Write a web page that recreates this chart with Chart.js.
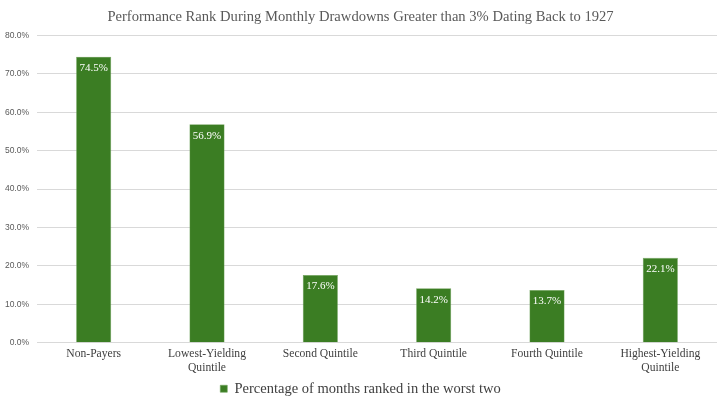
<!DOCTYPE html>
<html lang="en">
<head>
    <meta charset="UTF-8">
    <script src="https://cdn.jsdelivr.net/npm/chart.js"></script>
    <style>
        body { margin: 0; padding: 0; background: #fff; }
        #wrap { width: 724px; height: 406px; }
    </style>
    <title>Performance Rank During Monthly Drawdowns</title>
</head>
<body>
    <div id="wrap"><canvas id="rankChart"></canvas></div>
    <script>
        const categories = [
            "Non-Payers",
            ["Lowest-Yielding", "Quintile"],
            "Second Quintile",
            "Third Quintile",
            "Fourth Quintile",
            ["Highest-Yielding", "Quintile"]
        ];
        const worstTwoPct = [74.5, 56.9, 17.6, 14.2, 13.7, 22.1];
        const seriesName = "Percentage of months ranked in the worst two";
        const chartTitle = "Performance Rank During Monthly Drawdowns Greater than 3% Dating Back to 1927";

        // white value labels just inside the top of each bar
        const barLabels = {
            id: "barLabels",
            afterDatasetsDraw(chart) {
                const ctx = chart.ctx;
                const meta = chart.getDatasetMeta(0);
                ctx.save();
                ctx.fillStyle = "#ffffff";
                ctx.font = "11px 'Liberation Serif', serif";
                ctx.textAlign = "center";
                ctx.textBaseline = "top";
                meta.data.forEach((bar, i) => {
                    ctx.fillText(worstTwoPct[i].toFixed(1) + "%", bar.x, bar.y + 6);
                });
                ctx.restore();
            }
        };

        new Chart(document.getElementById("rankChart"), {
            type: "bar",
            data: {
                labels: categories,
                datasets: [{
                    label: seriesName,
                    data: worstTwoPct,
                    backgroundColor: "#3b7d23",
                    borderColor: "#6fa35a",
                    borderWidth: 0.6,
                    categoryPercentage: 1.0,
                    barPercentage: 0.31
                }]
            },
            options: {
                responsive: true,
                maintainAspectRatio: false,
                animation: false,
                layout: { padding: { left: 4, right: 7, top: 4, bottom: 0 } },
                plugins: {
                    title: {
                        display: true,
                        text: chartTitle,
                        color: "#595959",
                        font: { family: "'Liberation Serif', serif", size: 14.6, weight: "normal" },
                        padding: { top: 4, bottom: 10 }
                    },
                    legend: {
                        position: "bottom",
                        labels: {
                            color: "#404040",
                            font: { family: "'Liberation Serif', serif", size: 14.5 },
                            boxWidth: 7,
                            boxHeight: 7,
                            padding: 1
                        }
                    },
                    tooltip: { enabled: false }
                },
                scales: {
                    x: {
                        afterFit(scale) { scale.height += 2; },
                        grid: { display: false, drawTicks: false },
                        border: { display: false },
                        ticks: {
                            color: "#404040",
                            font: { family: "'Liberation Serif', serif", size: 11.6 },
                            maxRotation: 0,
                            padding: 4
                        }
                    },
                    y: {
                        min: 0,
                        max: 80,
                        afterFit(scale) { scale.width = 33; },
                        grid: { color: "#d9d9d9", drawTicks: false },
                        border: { display: false },
                        ticks: {
                            stepSize: 10,
                            color: "#595959",
                            padding: 8,
                            font: { family: "'Liberation Sans', sans-serif", size: 8.5 },
                            callback: v => v.toFixed(1) + "%"
                        }
                    }
                }
            },
            plugins: [barLabels]
        });
    </script>
</body>
</html>
